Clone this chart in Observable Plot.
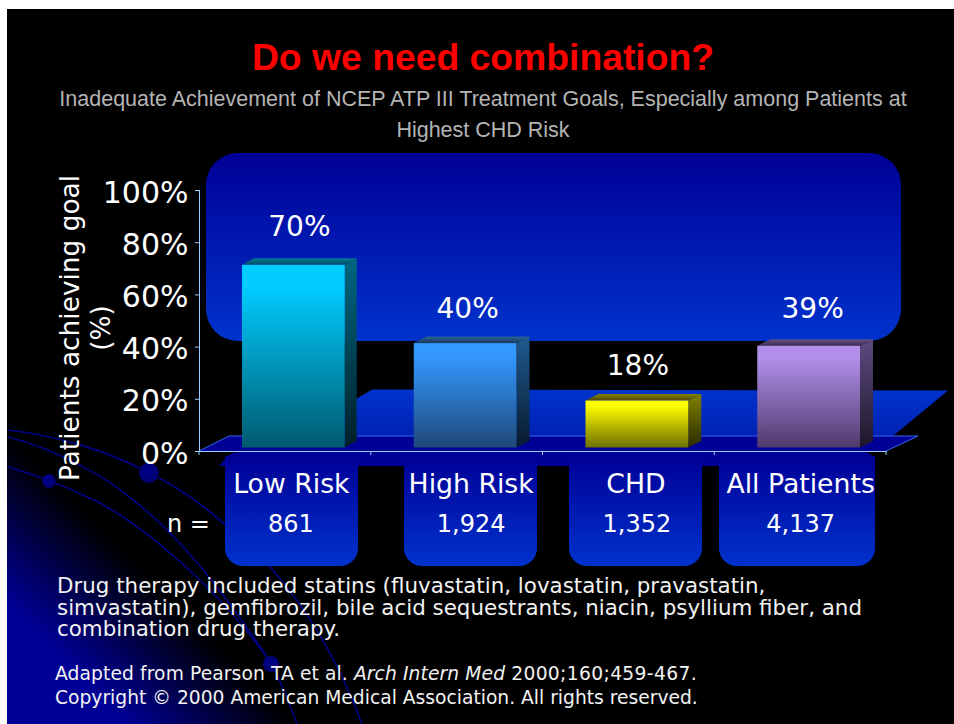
<!DOCTYPE html>
<html>
<head>
<meta charset="utf-8">
<script src="https://cdn.jsdelivr.net/npm/d3@7"></script>
<script src="https://cdn.jsdelivr.net/npm/@observablehq/plot@0.6"></script>
<style>
  html, body { margin: 0; padding: 0; background: #fff; }
  #page { position: relative; width: 954px; height: 724px; overflow: hidden; background: #fff; }
  #slide { position: absolute; left: 7px; top: 9px; right: 0; bottom: 0;
    background: linear-gradient(45deg, #000096 0%, #000096 20%, #000 48%) left bottom / 300px 300px no-repeat, #000; }
  #deco { position: absolute; left: 0; top: 0; }
  #chart { position: absolute; left: 0; top: 0; width: 954px; height: 724px; }
  .t { position: absolute; white-space: nowrap; }
  #title { left: 0; width: 966px; top: 37px; text-align: center; font: bold 37.3px/40px "Liberation Sans", sans-serif; color: #ff0000; }
  #subtitle { left: 0; width: 966px; top: 84px; text-align: center; font: 21.5px/31px "Liberation Sans", sans-serif; color: #b4b4b4; }
  #note { left: 57px; top: 575px; font: 21.4px/21.6px "DejaVu Sans", sans-serif; color: #f2f2f2; }
  #source { left: 55px; top: 662px; font: 18.7px/23.5px "DejaVu Sans", sans-serif; color: #f2f2f2; }
  #source .first { letter-spacing: 0.1px; }
  #source .cite { letter-spacing: 0.35px; }
</style>
</head>
<body>
<div id="page">
  <div id="slide"></div>
  <svg id="deco" width="954" height="724" viewBox="0 0 954 724">
    <defs>
      <linearGradient id="panel" x1="0" y1="0" x2="0" y2="1"><stop offset="0" stop-color="#000096"/><stop offset="1" stop-color="#0033cc"/></linearGradient>
      <linearGradient id="floor" x1="0" y1="0" x2="0" y2="1"><stop offset="0" stop-color="#0033cc"/><stop offset="1" stop-color="#0022b4"/></linearGradient>
      <linearGradient id="f0" x1="0" y1="0" x2="0" y2="1"><stop offset="0.12" stop-color="#00ccff"/><stop offset="1" stop-color="#005a6e"/></linearGradient>
      <linearGradient id="f1" x1="0" y1="0" x2="0" y2="1"><stop offset="0.12" stop-color="#3399ff"/><stop offset="1" stop-color="#1f4878"/></linearGradient>
      <linearGradient id="f2" x1="0" y1="0" x2="0" y2="1"><stop offset="0.1" stop-color="#ffff00"/><stop offset="1" stop-color="#707000"/></linearGradient>
      <linearGradient id="f3" x1="0" y1="0" x2="0" y2="1"><stop offset="0.12" stop-color="#b18fea"/><stop offset="1" stop-color="#4e3a6c"/></linearGradient>
      <linearGradient id="s0" x1="0" y1="0" x2="0" y2="1"><stop offset="0" stop-color="#006680"/><stop offset="1" stop-color="#00202a"/></linearGradient>
      <linearGradient id="s1" x1="0" y1="0" x2="0" y2="1"><stop offset="0" stop-color="#1f5a8f"/><stop offset="1" stop-color="#071a2d"/></linearGradient>
      <linearGradient id="s2" x1="0" y1="0" x2="0" y2="1"><stop offset="0" stop-color="#808000"/><stop offset="1" stop-color="#2a2a00"/></linearGradient>
      <linearGradient id="s3" x1="0" y1="0" x2="0" y2="1"><stop offset="0" stop-color="#5d4a80"/><stop offset="1" stop-color="#1d1729"/></linearGradient>
      <linearGradient id="t0" x1="0" y1="0" x2="0" y2="1"><stop offset="0" stop-color="#007a96"/><stop offset="1" stop-color="#004d60"/></linearGradient>
      <linearGradient id="t1" x1="0" y1="0" x2="0" y2="1"><stop offset="0" stop-color="#2a6496"/><stop offset="1" stop-color="#173a5c"/></linearGradient>
      <linearGradient id="t2" x1="0" y1="0" x2="0" y2="1"><stop offset="0" stop-color="#8a8400"/><stop offset="1" stop-color="#4a4500"/></linearGradient>
      <linearGradient id="t3" x1="0" y1="0" x2="0" y2="1"><stop offset="0" stop-color="#654f88"/><stop offset="1" stop-color="#3e3055"/></linearGradient>
      <radialGradient id="dot" cx="0.4" cy="0.4" r="0.7"><stop offset="0" stop-color="#00008c"/><stop offset="1" stop-color="#000066"/></radialGradient>
    </defs>
    <g fill="none" stroke="#000088" stroke-width="1.6">
      <path d="M8 430 C60 436 110 452 149 473 C190 492 225 522 270 567 C310 612 340 665 362 724"/>
      <path d="M8 437 C60 450 110 480 133 500 C170 528 215 578 271 663 C280 680 288 700 297 724"/>
      <path d="M8 467 C40 476 70 488 100 503 C140 525 180 560 205 585 C230 610 255 640 271 663"/>
    </g>
    <circle cx="149" cy="473" r="10" fill="url(#dot)"/>
    <circle cx="49" cy="481" r="7" fill="url(#dot)"/>
    <circle cx="271" cy="664" r="8" fill="url(#dot)"/>
    <rect x="206" y="153" width="695" height="188" rx="32" fill="url(#panel)"/>
    <polygon points="372,389.5 948,390.5 893,436 294,436" fill="url(#floor)"/>
    <polygon points="229,436 918,436 886,451 199,451" fill="#000096"/>
    <polyline points="199,451 229,436 918,436 886,451" fill="none" stroke="#3366ee" stroke-width="1"/>
    <path d="M219 466 C225 460 228 452 240 452 L862 452 C870 452 875 456 875 466 Z" fill="#000096"/>
    <path d="M225 456 H358 V548 A18 18 0 0 1 340 566 H243 A18 18 0 0 1 225 548 Z" fill="url(#panel)"/>
    <path d="M404 456 H537 V548 A18 18 0 0 1 519 566 H422 A18 18 0 0 1 404 548 Z" fill="url(#panel)"/>
    <path d="M569 456 H702 V548 A18 18 0 0 1 684 566 H587 A18 18 0 0 1 569 548 Z" fill="url(#panel)"/>
    <path d="M719 456 H875 V548 A18 18 0 0 1 857 566 H737 A18 18 0 0 1 719 548 Z" fill="url(#panel)"/>
  </svg>
  <div id="chart"></div>
  <div class="t" id="title">Do we need combination?</div>
  <div class="t" id="subtitle">Inadequate Achievement of NCEP ATP III Treatment Goals, Especially among Patients at<br>Highest CHD Risk</div>
  <div class="t" id="note">Drug therapy included statins (fluvastatin, lovastatin, pravastatin,<br>simvastatin), gemfibrozil, bile acid sequestrants, niacin, psyllium fiber, and<br>combination drug therapy.</div>
  <div class="t" id="source"><span class="first">Adapted from Pearson TA et al. <i>Arch Intern Med</i> </span><span class="cite">2000;160;459-467.</span><br>Copyright © 2000 American Medical Association. All rights reserved.</div>
</div>
<script>
const categories = ["Low Risk", "High Risk", "CHD", "All Patients"];
const achieved = [70, 40, 18, 39];
const nLabels = ["861", "1,924", "1,352", "4,137"];
const yTicks = [0, 20, 40, 60, 80, 100];
const yLabel = "Patients achieving goal\n(%)";

// styling only
const barDx = [14, 10.5, 9, 12];
const barDy = [-41.5, -38.5, -38.5, -41];
const catDx = [6, 14, 7, 0];
const nDx = [5.5, 14, 8, 0];
const depth = [12, 13, 13, 13];
const lift = 6.5;
const shift = -3.5;
const insetL = 43, insetR = 26;
const axisColor = "#99ccff";

const ml = 199, mr = 68;
const step = (954 - ml - mr) / categories.length;

// extruded side and top of each bar, placed with the chart's own scales
function extrusion(index, scales) {
  const g = d3.create("svg:g");
  categories.forEach((c, i) => {
    const l = scales.x(c) + insetL;
    const r = scales.x(c) + step - insetR;
    const top = scales.y(achieved[i]) + shift;
    const base = scales.y(0) + shift;
    const d = depth[i];
    g.append("polygon")
      .attr("points", [[r, top], [r + d, top - lift], [r + d, base - lift], [r, base]].join(" "))
      .attr("fill", `url(#s${i})`);
    g.append("polygon")
      .attr("points", [[l, top], [r, top], [r + d, top - lift], [l + d, top - lift]].join(" "))
      .attr("fill", `url(#t${i})`);
  });
  return g.node();
}

// x axis ticks fall on the category boundaries
function boundaryTicks(index, scales) {
  const g = d3.create("svg:g").attr("stroke", axisColor);
  const xs = categories.map((c) => scales.x(c));
  xs.push(xs[xs.length - 1] + step);
  xs.forEach((x) => {
    g.append("line").attr("x1", x).attr("x2", x)
      .attr("y1", scales.y(0)).attr("y2", scales.y(0) + 4);
  });
  return g.node();
}

const chart = Plot.plot({
  width: 954,
  height: 724,
  marginTop: 190,
  marginBottom: 273,
  marginLeft: ml,
  marginRight: mr,
  style: { background: "transparent", fontFamily: "'DejaVu Sans', sans-serif", color: "#fff" },
  x: { domain: categories, padding: 0, round: false, axis: null },
  y: { domain: [0, 100], axis: null },
  marks: [
    Plot.frame({ anchor: "left", stroke: axisColor }),
    Plot.frame({ anchor: "bottom", stroke: axisColor }),
    boundaryTicks,
    Plot.axisY({
      ticks: yTicks, tickFormat: () => "", tickSize: 4,
      stroke: axisColor, label: null
    }),
    Plot.axisY({
      ticks: yTicks, tickFormat: (d) => d + "%", tickSize: 0, tickPadding: 11, dy: 2.5,
      fill: "#fff", fontSize: 30, label: null
    }),
    Plot.text([yLabel], {
      frameAnchor: "left", dx: -114.5, dy: 7, rotate: -90, text: (d) => d,
      textAnchor: "middle", lineAnchor: "middle", fontSize: 26.4, lineHeight: 1.17, fill: "#fff"
    }),
    extrusion,
    ...categories.map((c, i) => Plot.barY([achieved[i]], {
      x: () => c, y: (d) => d, fill: `url(#f${i})`,
      insetLeft: insetL, insetRight: insetR, dy: shift
    })),
    ...categories.map((c, i) => Plot.text([achieved[i]], {
      x: () => c, y: (d) => d, text: (d) => d + "%",
      dx: barDx[i], dy: barDy[i], fontSize: 28, fill: "#fff"
    })),
    ...categories.map((c, i) => Plot.text([c], {
      x: (d) => d, text: (d) => d, frameAnchor: "bottom", lineAnchor: "middle",
      dx: catDx[i], dy: 33, fontSize: 26.7, fill: "#fff"
    })),
    ...categories.map((c, i) => Plot.text([nLabels[i]], {
      x: () => c, text: (d) => d, frameAnchor: "bottom", lineAnchor: "middle",
      dx: nDx[i], dy: 73, fontSize: 24, fill: "#fff"
    })),
    Plot.text(["n ="], {
      frameAnchor: "bottom-left", text: (d) => d, textAnchor: "start", lineAnchor: "middle",
      dx: -32.5, dy: 73, fontSize: 24, fill: "#fff"
    })
  ]
});
document.getElementById("chart").appendChild(chart);
</script>
</body>
</html>
